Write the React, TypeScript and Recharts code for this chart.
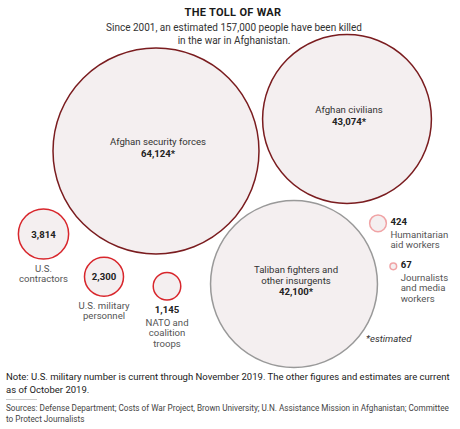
import React from "react";
import { ScatterChart, Scatter, XAxis, YAxis, ZAxis } from "recharts";

// ---- data ----
const categories = [
  "Afghan security forces",
  "Afghan civilians",
  "Taliban fighters and other insurgents",
  "U.S. contractors",
  "U.S. military personnel",
  "NATO and coalition troops",
  "Humanitarian aid workers",
  "Journalists and media workers",
];
const deaths = [64124, 43074, 42100, 3814, 2300, 1145, 424, 67];
const estimated = [true, true, true, false, false, false, false, false];
const labelLines = [
  ["Afghan security forces"],
  ["Afghan civilians"],
  ["Taliban fighters and", "other insurgents"],
  ["U.S.", "contractors"],
  ["U.S. military", "personnel"],
  ["NATO and", "coalition", "troops"],
  ["Humanitarian", "aid workers"],
  ["Journalists", "and media", "workers"],
];
const groups = ["afghan", "afghan", "insurgent", "us", "us", "us", "civil", "civil"];
// packed-bubble layout coordinates (chart domain units)
const layoutX = [156, 347, 294, 43.5, 104, 167, 378, 393.3];
const layoutY = [151, 119, 284, 234, 276.7, 286.3, 223.3, 266.3];
const labelMode = ["inside", "inside", "inside", "valueInside", "valueInside", "below", "right", "right"];

const title = "THE TOLL OF WAR";
const subtitle = ["Since 2001, an estimated 157,000 people have been killed", "in the war in Afghanistan."];
const noteLines = [
  "Note: U.S. military number is current through November 2019. The other figures and estimates are current",
  "as of October 2019.",
];
const sourceLines = [
  "Sources: Defense Department; Costs of War Project, Brown University; U.N. Assistance Mission in Afghanistan; Committee",
  "to Protect Journalists",
];
const estimatedNote = "*estimated";

// ---- styles ----
const strokeByGroup: Record<string, string> = {
  afghan: "#7a1c1f",
  insurgent: "#999999",
  us: "#d8262c",
  civil: "#f0a3a5",
};
const FILL = "#f4eff0";
const FONT = "Roboto, 'Noto Sans', sans-serif";

const data = categories.map((c, i) => ({
  name: c,
  deaths: deaths[i],
  est: estimated[i],
  lines: labelLines[i],
  group: groups[i],
  mode: labelMode[i],
  x: layoutX[i],
  y: layoutY[i],
}));

const fmt = (v: number, est: boolean) => v.toLocaleString("en-US") + (est ? "*" : "");

function Bubble(props: any) {
  const { cx, cy, payload, size } = props;
  const r = size ? Math.sqrt(size / Math.PI) : 0;
  const stroke = strokeByGroup[payload.group];
  const value = fmt(payload.deaths, payload.est);
  const lines: string[] = payload.lines;
  const txt: React.ReactNode[] = [];
  const common = { fontFamily: FONT, fontSize: 9.6, fill: "#333", dominantBaseline: "central" as const };
  if (payload.mode === "inside") {
    const n = lines.length + 1;
    const sp = 10.5;
    const y0 = cy - 4 - ((n - 1) * sp) / 2;
    lines.forEach((l, i) =>
      txt.push(<text key={i} x={cx + 2} y={y0 + i * sp} textAnchor="middle" {...common}>{l}</text>)
    );
    txt.push(<text key="v" x={cx + 2} y={y0 + lines.length * sp + 1} textAnchor="middle" {...common} fontWeight="bold" fill="#222">{value}</text>);
  } else if (payload.mode === "valueInside") {
    txt.push(<text key="v" x={cx} y={cy} textAnchor="middle" {...common} fontWeight="bold" fill="#222">{value}</text>);
    lines.forEach((l, i) =>
      txt.push(<text key={i} x={cx} y={cy + r + 9 + i * 10} textAnchor="middle" {...common} fill="#555">{l}</text>)
    );
  } else if (payload.mode === "below") {
    const vy = cy + r + 9;
    txt.push(<text key="v" x={cx} y={vy} textAnchor="middle" {...common} fontWeight="bold" fill="#222">{value}</text>);
    lines.forEach((l, i) =>
      txt.push(<text key={i} x={cx} y={vy + 13 + i * 10.5} textAnchor="middle" {...common} fill="#555">{l}</text>)
    );
  } else {
    const tx = cx + r + 4;
    const vy = cy - 1.5;
    txt.push(<text key="v" x={tx} y={vy} textAnchor="start" {...common} fontWeight="bold" fill="#222">{value}</text>);
    lines.forEach((l, i) =>
      txt.push(<text key={i} x={tx} y={vy + 12.5 + i * 10.5} textAnchor="start" {...common} fill="#555">{l}</text>)
    );
  }
  return (
    <g>
      <circle cx={cx} cy={cy} r={r} fill={FILL} stroke={stroke} strokeWidth={1.5} />
      {txt}
    </g>
  );
}

export default function App() {
  const maxR = 103;
  return (
    <div style={{ position: "absolute", left: 0, top: 0, width: 460, height: 429, background: "#fff", fontFamily: FONT }}>
      <ScatterChart width={460} height={429} margin={{ top: 0, right: 0, bottom: 0, left: 0 }}>
        <XAxis type="number" dataKey="x" domain={[0, 460]} hide height={0} />
        <YAxis type="number" dataKey="y" domain={[0, 429]} reversed hide width={0} />
        <ZAxis type="number" dataKey="deaths" domain={[0, 64124]} range={[0, Math.PI * maxR * maxR]} />
        <Scatter data={data} shape={<Bubble />} isAnimationActive={false} />
      </ScatterChart>
      <div style={{ position: "absolute", left: 0, top: 6, width: 466, textAlign: "center", fontSize: 11, fontWeight: "bold", color: "#1a1a1a", letterSpacing: 0.3, lineHeight: "14px" }}>
        {title}
      </div>
      <div style={{ position: "absolute", left: 0, top: 20.5, width: 468, textAlign: "center", fontSize: 10, color: "#333", lineHeight: "13px" }}>
        {subtitle[0]}
        <br />
        {subtitle[1]}
      </div>
      <div style={{ position: "absolute", left: 366, top: 333, fontSize: 9.6, fontStyle: "italic", color: "#333", lineHeight: "12px" }}>
        {estimatedNote}
      </div>
      <div style={{ position: "absolute", left: 6, top: 370, width: 470, fontSize: 9.5, color: "#222", lineHeight: "13px", whiteSpace: "nowrap" }}>
        {noteLines[0]}
        <br />
        {noteLines[1]}
      </div>
      <div style={{ position: "absolute", left: 6, top: 399, width: 31, height: 1, background: "#ccc" }} />
      <div style={{ position: "absolute", left: 6, top: 403, width: 470, fontSize: 8.2, color: "#444", lineHeight: "11px", whiteSpace: "nowrap" }}>
        {sourceLines[0]}
        <br />
        {sourceLines[1]}
      </div>
    </div>
  );
}
